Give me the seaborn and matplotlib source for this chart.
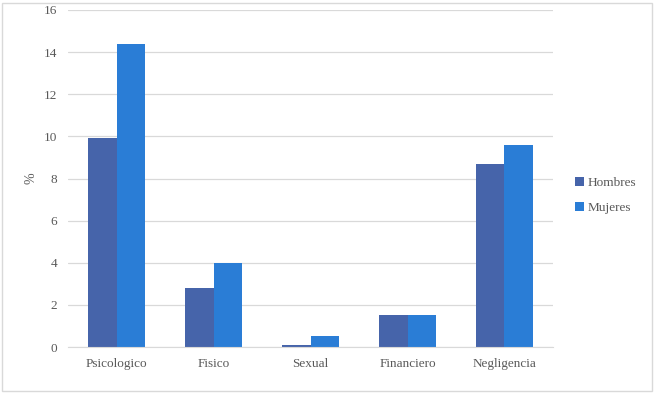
import pandas as pd
import matplotlib.pyplot as plt
import seaborn as sns
from matplotlib.patches import Rectangle

# ===== DATA =====
categorias = ["Psicologico", "Fisico", "Sexual", "Financiero", "Negligencia"]
hombres = [9.9, 2.8, 0.1, 1.5, 8.7]
mujeres = [14.4, 4.0, 0.5, 1.5, 9.6]

df = pd.DataFrame({
    "Tipo": categorias * 2,
    "Sexo": ["Hombres"] * len(categorias) + ["Mujeres"] * len(categorias),
    "Valor": hombres + mujeres,
})

sns.set_style("white")
plt.rcParams['font.family'] = ['Liberation Serif', 'DejaVu Serif']

fig = plt.figure(figsize=(6.55, 3.93), dpi=100)
ax = fig.add_axes([68 / 655, 1 - 347 / 393, (553 - 68) / 655, (347 - 10) / 393])

sns.barplot(data=df, x="Tipo", y="Valor", hue="Sexo", order=categorias,
            palette={"Hombres": "#4664AA", "Mujeres": "#2A7DD6"},
            width=0.58, saturation=1, linewidth=0, ax=ax, legend=True)

ax.set_ylim(0, 16)
ax.set_xlim(-0.5, 4.5)
ax.set_yticks(range(0, 17, 2))
ax.yaxis.grid(True, color="#D9D9D9", linewidth=0.9)
ax.set_axisbelow(True)
for s in ["top", "right", "left"]:
    ax.spines[s].set_visible(False)
ax.spines["bottom"].set_color("#D9D9D9")
ax.tick_params(axis="both", length=0, labelsize=9.5, labelcolor="#595959", pad=8)
ax.set_xlabel("")
ax.set_ylabel("%", fontsize=10, color="#595959")
ax.yaxis.set_label_coords(-0.062, 0.5)

ax.legend(loc="center left", bbox_to_anchor=(1.02, 0.45), frameon=False,
          fontsize=9.5, labelcolor="#595959", handlelength=0.7, handleheight=0.7,
          handletextpad=0.3, labelspacing=1.0)

fig.patches.append(Rectangle((2 / 655, 2 / 393), 650 / 655, 388 / 393,
                             transform=fig.transFigure, fill=False,
                             edgecolor="#D9D9D9", linewidth=1))

fig.savefig("out.png", dpi=100)
